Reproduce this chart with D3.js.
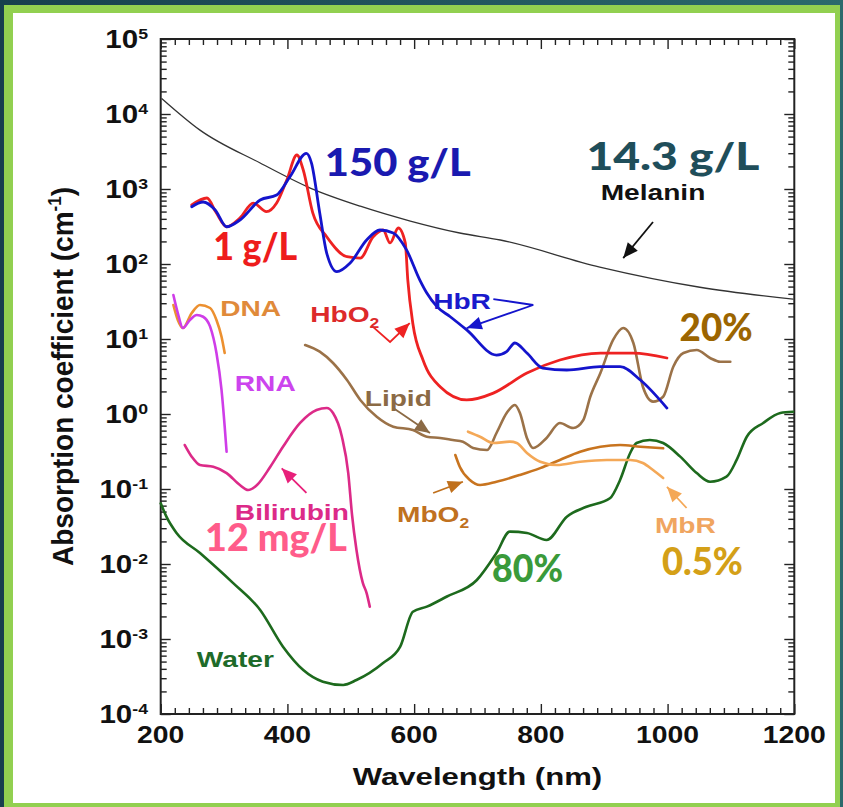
<!DOCTYPE html>
<html><head><meta charset="utf-8">
<script src="https://cdn.jsdelivr.net/npm/d3@7"></script>
<style>html,body{margin:0;padding:0;background:#fff}svg{display:block}</style>
</head><body>
<svg id="chart" width="843" height="807"></svg>
<script>
// Absorption spectra: [wavelength nm, absorption coefficient cm^-1]
const melanin = [[202,1.6e4],[262,6100],[357,2220],[436,1030],[515,590],[594,374],[672,259],[736,209],[893,91],[1051,49],[1198,34]];
const hbR = [[249,581],[267,671],[286,525],[304,314],[325,386],[357,713],[383,832],[404,1460],[430,2990],[438,2220],[451,479],[462,140],[478,79],[499,103],[525,209],[546,284],[567,259],[588,154],[609,61],[620,41],[636,27],[657,19.8],[683,13.2],[730,6.1],[746,6.8],[759,8.85],[778,6.5],[803,4.1],[841,3.86],[894,4.27],[925,4.27],[957,2.84],[999,1.2]];
const hbO2 = [[249,612],[273,759],[287,493],[304,314],[325,410],[346,650],[367,498],[383,650],[399,1318],[415,2840],[425,1790],[440,479],[462,231],[494,125],[515,120],[535,229],[551,284],[562,191],[575,302],[586,191],[590,61],[598,16],[614,5.25],[641,2.31],[683,1.54],[725,1.9],[778,3.52],[830,5.25],[894,6.5],[946,6.5],[999,5.58]];
const dna = [[220,28.4],[227,17.9],[235,14],[249,22.2],[262,28.4],[278,25.9],[288,17.9],[296,10.7],[301,6.5]];
const rna = [[220,38.6],[227,22.2],[235,14],[246,17.9],[257,20.9],[267,19.8],[278,14.6],[288,6.5],[296,2.09],[301,0.68],[304,0.314]];
const bilirubin = [[238,0.386],[249,0.27],[262,0.209],[283,0.198],[304,0.163],[325,0.113],[338,0.097],[352,0.113],[373,0.198],[393,0.366],[420,0.759],[446,1.13],[462,1.2],[472,1.03],[486,0.498],[496,0.163],[502,0.045],[509,0.0154],[519,0.0056],[525,0.0041],[530,0.0027]];
const water = [[200,0.0644],[209,0.0428],[225,0.0259],[262,0.014],[314,0.0056],[357,0.00244],[393,7.9e-4],[425,3.86e-4],[456,2.7e-4],[488,2.44e-4],[509,2.84e-4],[551,4.79e-4],[578,7.9e-4],[598,0.00231],[620,0.0027],[651,0.00366],[699,0.00612],[730,0.014],[751,0.027],[778,0.0259],[809,0.0209],[841,0.0428],[872,0.058],[909,0.0752],[925,0.132],[941,0.302],[951,0.41],[972,0.45],[993,0.41],[1020,0.27],[1046,0.163],[1067,0.125],[1093,0.146],[1109,0.244],[1125,0.498],[1151,0.759],[1178,1.03],[1198,1.07]];
const lipid = [[428,8.32],[451,6.78],[472,4.79],[494,2.84],[515,1.54],[541,0.92],[567,0.678],[598,0.612],[620,0.498],[641,0.479],[661,0.45],[677,0.428],[693,0.352],[715,0.331],[730,0.558],[746,1.03],[759,1.32],[767,1.03],[778,0.479],[788,0.352],[809,0.479],[830,0.759],[851,0.65],[867,0.832],[878,1.7],[894,3.52],[914,9.7],[930,14],[946,8.85],[961,2.31],[977,1.46],[993,1.7],[1009,4.27],[1025,6.5],[1046,7.13],[1067,5.58],[1083,4.98],[1099,4.98]];
const mbO2 = [[665,0.284],[672,0.198],[688,0.132],[704,0.113],[730,0.125],[767,0.154],[799,0.19],[830,0.244],[862,0.314],[894,0.366],[925,0.386],[957,0.366],[993,0.349]];
const mbR = [[685,0.581],[704,0.498],[725,0.41],[751,0.428],[762,0.41],[778,0.302],[799,0.231],[825,0.209],[862,0.231],[904,0.244],[941,0.244],[961,0.222],[977,0.179],[993,0.14]];

// Axis ticks
const xMajor = [200,400,600,800,1000,1200];
const yExponents = [-4,-3,-2,-1,0,1,2,3,4,5];

const svg = d3.select("#chart");
const W = 843, H = 807;

// Slide frame
const defs = svg.append("defs");
const grad = defs.append("linearGradient").attr("id","bg").attr("x1","0").attr("x2","1").attr("y1","0").attr("y2","0");
grad.append("stop").attr("offset","0").attr("stop-color","#173f4d");
grad.append("stop").attr("offset","1").attr("stop-color","#2b6a6c");
svg.append("rect").attr("width",W).attr("height",H).attr("fill","url(#bg)");
svg.append("rect").attr("x",4).attr("y",5).attr("width",836).attr("height",H-5).attr("fill","#92d050");
svg.append("rect").attr("x",13).attr("y",13).attr("width",822).attr("height",790).attr("fill","#fff");

const x = d3.scaleLinear().domain([200,1200]).range([160.7,794.3]);
const y = d3.scaleLog().domain([1e-4,1e5]).range([714,39]);

const ARIAL = "'Liberation Sans', Arial, Helvetica, sans-serif";
const ROUND = "Lato, 'Open Sans', sans-serif";
const SX = 1.18;

// Minor tick values
const xMinor = d3.range(0,46).map(k => 200 + k*200/9).filter(v => v <= 1200.01 && Math.abs(((v-200)/200) - Math.round((v-200)/200)) > 1e-6);
const yMinor = [];
for (let e = -4; e < 5; e++) for (let d = 2; d <= 9; d++) yMinor.push(d*Math.pow(10,e));

const axG = svg.append("g").attr("class","axes");
function drawAxis(gen, tr, vals, size) {
  const g = axG.append("g").attr("transform", tr)
    .call(gen.tickValues(vals).tickSizeInner(size).tickSizeOuter(0).tickFormat(""));
  g.select(".domain").remove();
  g.selectAll("line").attr("stroke","#222").attr("stroke-width",1.4);
}
const x0 = x.range()[0], x1 = x.range()[1], y0 = y.range()[0], y1 = y.range()[1];
drawAxis(d3.axisBottom(x), `translate(0,${y0})`, xMajor, -10);
drawAxis(d3.axisBottom(x), `translate(0,${y0})`, xMinor, -6);
drawAxis(d3.axisTop(x), `translate(0,${y1})`, xMajor, -10);
drawAxis(d3.axisTop(x), `translate(0,${y1})`, xMinor, -6);
const yMajVals = yExponents.map(e => Math.pow(10,e));
drawAxis(d3.axisLeft(y), `translate(${x0},0)`, yMajVals, -10);
drawAxis(d3.axisLeft(y), `translate(${x0},0)`, yMinor, -6);
drawAxis(d3.axisRight(y), `translate(${x1},0)`, yMajVals, -10);
drawAxis(d3.axisRight(y), `translate(${x1},0)`, yMinor, -6);
axG.append("rect").attr("x",x0).attr("y",y1).attr("width",x1-x0).attr("height",y0-y1)
  .attr("fill","none").attr("stroke","#222").attr("stroke-width",2);

// Tick labels
const tl = svg.append("g").attr("font-family",ARIAL).attr("font-weight","bold").attr("fill","#111");
xMajor.forEach(v => {
  tl.append("text").attr("transform",`translate(${x(v)},743) scale(${SX},1)`)
    .attr("text-anchor","middle").attr("font-size",24).text(v);
});
yExponents.forEach(e => {
  const t = tl.append("text").attr("transform",`translate(148,${y(Math.pow(10,e))+9}) scale(${SX},1)`)
    .attr("text-anchor","end").attr("font-size",25);
  t.append("tspan").text("10");
  t.append("tspan").attr("font-size",15).attr("dy",-9).text(e < 0 ? "-" + (-e) : e);
});

// Axis titles
tl.append("text").attr("transform",`translate(${(x0+x1)/2},785) scale(1.27,1)`)
  .attr("text-anchor","middle").attr("font-size",24.5).text("Wavelength (nm)");
const yt = tl.append("text").attr("transform",`translate(73,${(y0+y1)/2}) scale(1.08,1) rotate(-90)`)
  .attr("text-anchor","middle").attr("font-size",28);
yt.append("tspan").text("Absorption coefficient (cm");
yt.append("tspan").attr("font-size",17).attr("dy",-11).text("-1");
yt.append("tspan").attr("dy",11).text(")");

// Spectra
const line = d3.line().x(d => x(d[0])).y(d => y(d[1])).curve(d3.curveMonotoneX);
const series = [
  {data: melanin, color:"#333333", w:1.3},
  {data: water, color:"#1d6a1d", w:2.6},
  {data: lipid, color:"#9b7248", w:2.6},
  {data: mbO2, color:"#c8741f", w:2.6},
  {data: mbR, color:"#f4a857", w:2.6},
  {data: bilirubin, color:"#dc2a88", w:2.6},
  {data: dna, color:"#ec9030", w:2.6},
  {data: rna, color:"#cf3de8", w:2.6},
  {data: hbO2, color:"#ee2222", w:2.8},
  {data: hbR, color:"#1414cc", w:2.8}
];
const plot = svg.append("g").attr("fill","none").attr("stroke-linejoin","round").attr("stroke-linecap","round");
series.forEach(s => plot.append("path").attr("d", line(s.data)).attr("stroke", s.color).attr("stroke-width", s.w));

// Pointer arrows, positioned in data coordinates
const arrows = [
  {pts:[[977,363],[930,120]], color:"#111"},
  {pts:[[725,34.1],[788,28.4],[683,14]], color:"#1414cc"},
  {pts:[[535,14.5],[562,9.12],[593,16.3]], color:"#ee2222"},
  {pts:[[567,1.2],[625,0.558]], color:"#8b6a45"},
  {pts:[[430,0.0885],[391,0.189]], color:"#e8207a"},
  {pts:[[630,0.0885],[677,0.125]], color:"#c0701c"},
  {pts:[[1030,0.0558],[999,0.107]], color:"#f4a857"}
];
const ag = svg.append("g");
arrows.forEach(a => {
  const p = a.pts.map(d => [x(d[0]), y(d[1])]);
  ag.append("path").attr("d", d3.line()(p)).attr("fill","none").attr("stroke",a.color).attr("stroke-width",1.8);
  const [ax, ay] = p[p.length-1], [bx, by] = p[p.length-2];
  const ang = Math.atan2(ay-by, ax-bx), L = 15, Wd = 6.5;
  const cx = ax - L*Math.cos(ang), cy = ay - L*Math.sin(ang);
  const nx = -Math.sin(ang), ny = Math.cos(ang);
  ag.append("path").attr("d", `M${ax},${ay}L${cx+nx*Wd},${cy+ny*Wd}L${cx-nx*Wd},${cy-ny*Wd}Z`).attr("fill",a.color);
});

// Curve names
const names = [
  {parts:[["Melanin"]], at:[977,713], color:"#111", anchor:"middle"},
  {parts:[["DNA"]], at:[342,20.3], color:"#e08a3a", anchor:"middle"},
  {parts:[["RNA"]], at:[365,2.03], color:"#cc44ee", anchor:"middle"},
  {parts:[["HbO"],["2",1]], at:[436,16.9], color:"#dd2a2a", anchor:"start"},
  {parts:[["HbR"]], at:[630,25.1], color:"#1a1acc", anchor:"start"},
  {parts:[["Lipid"]], at:[522,1.28], color:"#8b6a45", anchor:"start"},
  {parts:[["Bilirubin"]], at:[317,0.0385], color:"#dc2a88", anchor:"start"},
  {parts:[["Water"]], at:[257,4.24e-4], color:"#1e6b2a", anchor:"start"},
  {parts:[["MbO"],["2",1]], at:[573,0.0363], color:"#c0711f", anchor:"start"},
  {parts:[["MbR"]], at:[980,0.0259], color:"#f0a560", anchor:"start"}
];
const ng = svg.append("g").attr("font-family",ARIAL).attr("font-weight","bold");
names.forEach(n => {
  const t = ng.append("text").attr("transform",`translate(${x(n.at[0])},${y(n.at[1])}) scale(1.25,1)`)
    .attr("text-anchor", n.anchor).attr("font-size",22.5).attr("fill",n.color);
  n.parts.forEach(p => {
    const s = t.append("tspan").text(p[0]);
    if (p[1]) s.attr("font-size",14).attr("dy",6);
  });
});

// Concentrations
const notes = [
  {text:"150 g/L", at:[459,1475], len:146, color:"#1a1ab0"},
  {text:"1 g/L", at:[283,113], len:84, color:"#ee1c1c"},
  {text:"14.3 g/L", at:[872,1790], len:173, color:"#1f4e5a"},
  {text:"20%", at:[1019,9.4], len:73, color:"#9c6500"},
  {text:"80%", at:[723,0.00575], len:71, color:"#3a9a3a"},
  {text:"0.5%", at:[991,0.00713], len:81, color:"#d4a017"},
  {text:"12 mg/L", at:[270,0.0148], len:142, color:"#ff5c8a"}
];
const cg = svg.append("g").attr("font-family",ROUND).attr("font-weight",900);
notes.forEach(n => {
  cg.append("text").attr("x", x(n.at[0])).attr("y", y(n.at[1]))
    .attr("font-size",37).attr("fill",n.color)
    .attr("textLength", n.len).attr("lengthAdjust","spacingAndGlyphs").text(n.text);
});
</script></body></html>
